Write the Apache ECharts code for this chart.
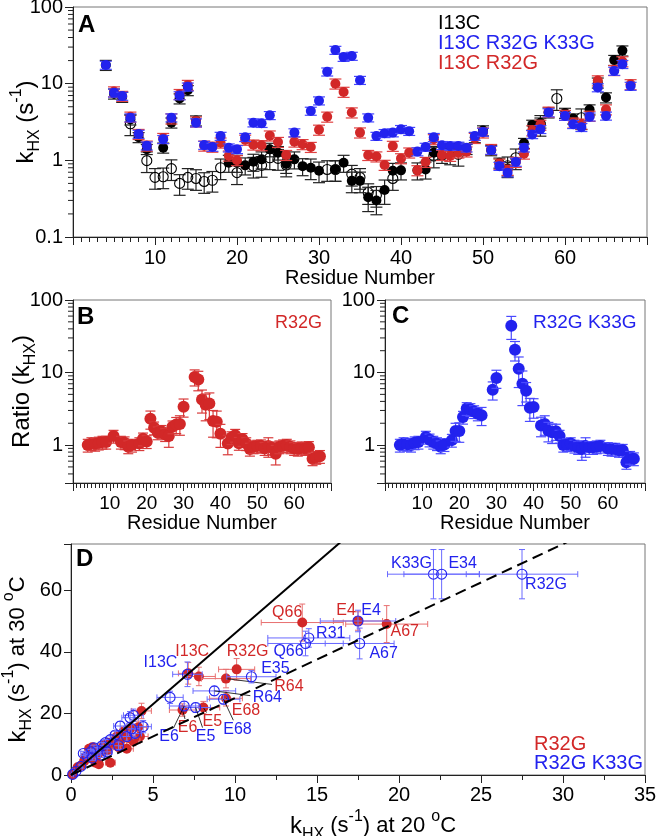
<!DOCTYPE html>
<html>
<head>
<meta charset="utf-8">
</head>
<body style="margin:0">
<div id="main" style="width:660px;height:836px"></div>
<script src="https://cdn.jsdelivr.net/npm/echarts@6/dist/echarts.min.js"></script>
<script>
// ---- panel A: kHX per residue (s^-1), [residue, value, optional rel. error]
const blackA = [[4,17.5],[5,7.4],[6,6.7],[7,3.4],[8,2.0],[9,1.4],[11,1.46],[12,3.1],[13,6.4],[14,8.2],[15,3.3],
  [19,0.93,0.25],[20,0.93,0.25],[21,0.86,0.25],[22,0.96,0.25],[23,1.03,0.25],[24,1.39,0.2],[25,1.26,0.2],
  [26,0.9,0.25],[27,1.03,0.25],[28,0.84,0.25],[29,0.8,0.3],[30,0.73,0.3],[32,0.76,0.3],[33,0.93,0.25],
  [34,0.54,0.3],[35,0.54,0.3],[36,0.33,0.35],[37,0.30,0.35],[38,0.41,0.35],[39,0.73,0.25],[40,0.74,0.25],
  [42,0.74,0.25],[43,0.76,0.25],[44,1.26,0.2],[45,1.14,0.2],[46,1.45],[47,1.46],[48,1.4],[49,2.0],[50,2.45],
  [51,1.35],[52,0.93],[53,0.78,0.2],[55,1.68],[56,2.9],[57,3.1],[58,4.2],[60,4.15],[61,3.5],[63,4.6],
  [64,10.3],[65,6.6],[66,20.3],[67,27]];
const openA = [[7,3.0],[9,0.99],[10,0.6],[11,0.61],[12,0.78],[13,0.5],[14,0.6],[15,0.58],[16,0.53],[17,0.55],
  [18,0.8],[20,0.69],[22,0.84],[23,0.86],[24,1.08],[25,1.06],[26,0.87],[31,0.76],[32,0.76],[34,0.66],
  [35,0.6],[36,0.38],[37,0.35],[39,0.58],[44,1.14],[46,1.25],[47,1.2],[53,0.85],[54,1.08],[57,2.95],
  [59,6.4],[62,3.6]];
const redA = [[5,7.9],[6,6.9],[7,3.7],[8,2.2],[9,1.55],[11,1.95],[12,3.5],[13,7.3],[14,9.6],[15,3.2],[16,1.55],
  [17,1.5],[18,1.7],[19,1.15],[20,1.0],[21,1.85],[22,1.6],[23,1.57],[24,2.1],[25,1.73],[26,1.17],[27,1.75],
  [28,1.62],[29,1.49],[30,2.5],[31,3.7],[32,10],[33,7.8],[34,4.2],[35,2.3],[36,1.17],[37,1.12],[38,0.87],
  [39,1.54],[40,1.06],[41,1.26],[42,0.74],[43,0.95],[44,1.88],[45,1.17],[46,1.14],[47,1.26],[48,1.3],
  [49,1.95],[50,2.3],[51,1.4],[52,0.9],[53,0.75],[54,0.95],[55,1.22],[56,2.45],[57,2.9],[58,4.3],[60,3.9],
  [61,3.1],[62,3.0],[63,3.8],[64,11],[65,4.6],[66,15],[67,19.5],[68,9.8]];
const blueA = [[4,17.5],[5,7.6],[6,6.9],[7,3.6],[8,2.2],[9,1.55],[11,1.88],[12,3.6],[13,7.0],[14,9.1],[15,3.1],
  [16,1.58],[17,1.49],[18,2.07],[19,1.46],[20,1.39],[21,2.0],[22,3.1],[23,3.05],[24,3.86],[27,2.3],[29,4.4],
  [30,6.0],[31,14.3],[32,27.4],[33,22.2],[34,22.9],[35,11.1],[36,3.6],[37,2.07],[38,2.25],[39,2.3],[40,2.54],
  [41,2.4],[42,1.3],[43,1.49],[44,2.0],[45,1.57],[46,1.54],[47,1.54],[48,1.46],[49,2.07],[50,2.34],[51,1.36],
  [52,0.84],[53,0.69],[54,0.95],[55,1.46],[56,2.18],[57,2.54],[58,4.2],[60,3.78],[61,2.95],[62,2.7],[63,3.7],
  [64,8.9],[65,3.8],[66,14.6],[67,17.9],[68,9.3]];

// ---- panels B, C: ratio of kHX, [residue, ratio, optional rel. error]
const ratioB = [[4,1.0],[5,1.05],[6,1.03],[7,1.07],[8,1.1],[9,1.1],[11,1.33],[13,1.1],[14,1.08],[15,0.95],
  [16,1.0],[18,1.05],[19,1.22],[20,1.12],[21,2.3,0.28],[22,1.73],[23,1.48],[24,1.55],[25,1.4],[26,1.33,0.3],
  [27,1.79],[28,1.92,0.25],[29,1.95,0.3],[30,3.37,0.28],[33,8.7,0.25],[34,8.0,0.3],[35,4.25,0.35],
  [36,3.6,0.4],[37,3.74,0.4],[38,2.14,0.4],[39,2.1,0.4],[40,1.43,0.35],[42,1.05,0.3],[43,1.27],[44,1.37],
  [45,1.06],[46,1.2],[47,1.05],[48,0.88],[49,0.95],[50,0.97],[51,0.98],[52,0.9],[53,0.97,0.3],[54,0.92],
  [55,0.76,0.3],[56,0.95],[57,0.98],[58,1.0],[59,0.95],[60,0.9],[61,0.88],[62,0.92],[63,0.9],[64,0.93],
  [65,0.65],[66,0.68],[67,0.7]];
const ratioC = [[4,1.0],[5,1.05],[6,1.03],[7,1.0],[8,1.08],[9,1.1],[11,1.29],[12,1.18],[13,1.1],[14,1.05],
  [15,0.95],[16,1.02],[18,1.17],[19,1.56,0.28],[20,1.56,0.3],[21,2.43],[22,3.2],[23,3.1],[24,2.9],[25,2.7],
  [26,2.58,0.28],[29,5.8,0.28],[30,8.4,0.28],[34,44,0.35],[35,20.6,0.3],[36,11.3,0.45],[37,7.0,0.5],
  [38,5.6,0.3],[39,3.26,0.35],[40,3.35,0.3],[42,1.86,0.3],[43,1.95,0.3],[44,1.58,0.3],[45,1.5,0.3],
  [46,1.55,0.25],[47,1.33],[48,1.0],[49,1.02],[50,1.05],[51,0.97],[52,0.93],[53,0.88,0.3],[54,0.97,0.3],
  [55,0.93],[56,0.93],[57,0.95],[58,0.97],[60,0.9],[61,0.88],[62,0.88],[63,0.85],[64,0.85],[65,0.58],
  [66,0.68],[67,0.65]];

// ---- panel D: [kHX 20C, kHX 30C, x error, y error, label]
const redD = [[14.1,49.5,2.5,6,'Q66'],[17.5,50,1.5,3,'E4'],[19.25,49,2.5,6,'A67'],[7.15,33,0.6,3.5,'I13C'],
  [7.8,32,1.0,3],[10.1,34.3,1.1,3.5,'R32G'],[9.45,31.3,1.5,3,'R64'],[9.45,24.9,1.0,2.5,'E68'],
  [8.07,21.9,1.0,2,'E5'],[6.8,21.1,0.8,2,'E6'],
  [4.3,20.8,0.6,2.5],[4.1,15.5,0.5,2],[4.2,12.5,0.5,1.5],[3.6,15,0.5,2],[3.5,12,0.4,1.5],[3.2,14,0.4,1.5],
  [3.0,11,0.4,1.5],[2.9,9,0.3,1],[2.6,10,0.3,1.2],[2.4,4.0,0.3,0.8],[2.2,8,0.3,1],[2.0,9.5,0.3,1],
  [1.8,7.5,0.2,1],[1.6,6.5,0.2,0.8],[1.5,4,0.2,0.6],[1.3,9,0.2,1],[1.1,8.5,0.2,1],[1.2,5.5,0.2,0.8],
  [0.9,6,0.15,0.8],[0.8,4.5,0.1,0.6],[0.6,3,0.1,0.5],[0.4,2.5,0.1,0.4],[0.1,0.2,0.05,0.1],[1.7,3.5,0.2,0.5],
  [2.3,10.5,0.3,1.2],[3.8,11,0.4,1.5],[3.4,8.5,0.4,1.2],[1.4,7,0.2,0.9],[2.8,12.5,0.3,1.5]];
const blueD = [[22.1,65.2,2.8,8,'K33G'],[22.6,65.2,2.3,8,'E34'],[27.5,65.2,3.4,8,'R32G'],[17.5,50,2.3,3.5,'E4'],
  [17.6,42.7,2.1,5,'A67'],[14.5,44.5,2.5,3,'R31'],[14.3,42.7,2.3,4,'Q66'],[7.1,32.7,0.9,4,'I13C'],
  [11.0,31.9,1.5,2,'E35'],[8.74,27.3,1.3,1.5,'R64'],[9.3,24.6,1.0,1.5,'E68'],[7.6,21.9,0.9,1.5,'E5'],
  [6.9,22.4,0.9,1.5,'E6'],
  [6.04,25.2,0.8,2],[4.4,15.7,0.5,2],[3.8,19.4,0.6,2],[3.6,18.6,0.5,2],[3.0,15.9,0.4,1.5],[3.4,12.5,0.4,1.5],
  [2.7,13,0.3,1.2],[2.4,11.5,0.3,1.2],[2.1,10.5,0.3,1],[1.9,9.5,0.3,1],[1.6,8,0.2,0.9],[1.4,8.8,0.2,0.9],
  [1.2,7.5,0.2,0.8],[1.0,6,0.15,0.7],[0.75,7,0.15,0.7],[0.6,2.8,0.1,0.5],[0.3,1.2,0.1,0.3],[0.1,0.2,0.05,0.1],
  [1.3,5.5,0.2,0.7],[1.8,6.5,0.2,0.8],[2.2,7.5,0.3,1],[3.9,13.5,0.4,1.5],[2.9,9.5,0.3,1.2],[3.7,15,0.5,1.5]];
const slopeSolid = 4.6;
const slopeDashed = 2.5;

// minor ticks of the log axes
const logMinor = [0.2,0.3,0.4,0.5,0.6,0.7,0.8,0.9,2,3,4,5,6,7,8,9,20,30,40,50,60,70,80,90];

// label offsets in D (pixels from the point centre), lead = draw a leader line
const redLabels = {
  Q66: {off: [-15, -10]}, E4: {off: [-12, -10]}, A67: {off: [18, 8]}, I13C: {off: [4, -22]},
  R32G: {off: [11, -18]}, R64: {off: [63, 8], lead: true}, E68: {off: [20, 12], lead: true},
  E5: {off: [9, 14], lead: true}, E6: {off: [5, 18], lead: true}
};
const blueLabels = {
  K33G: {off: [-22, -11]}, E34: {off: [21, -11]}, R32G: {off: [24, 10]}, E4: {off: [13, -10]},
  A67: {off: [24, 10]}, R31: {off: [22, -4]}, Q66: {off: [-17, 8]}, I13C: {off: [-27, -12]},
  E35: {off: [24, -8]}, R64: {off: [53, 7], lead: true}, E68: {off: [14, 30], lead: true},
  E5: {off: [10, 29], lead: true}, E6: {off: [-15, 31], lead: true}
};

const FONT = '"Liberation Sans", Arial, Helvetica, sans-serif';
const RED = '#d22828';
const BLUE = '#2222ee';
const AX = '#222';

var dom = document.getElementById('main');
var myChart = echarts.init(dom);

function resSeries(grid, data, defErr, color, barColor, r, cap, open) {
  return {
    type: 'custom', xAxisIndex: grid, yAxisIndex: grid, clip: false, silent: true,
    data: data.map(d => [d[0], d[1], d[2] == null ? defErr : d[2]]),
    encode: {x: 0, y: 1},
    renderItem: function (params, api) {
      const x = api.value(0), y = api.value(1), e = api.value(2);
      const p = api.coord([x, y]);
      const lo = api.coord([x, y * (1 - e)]);
      const hi = api.coord([x, y * (1 + e)]);
      const ls = {stroke: barColor, lineWidth: 1.2};
      return {type: 'group', children: [
        {type: 'line', shape: {x1: p[0], y1: lo[1], x2: p[0], y2: hi[1]}, style: ls},
        {type: 'line', shape: {x1: p[0] - cap, y1: lo[1], x2: p[0] + cap, y2: lo[1]}, style: ls},
        {type: 'line', shape: {x1: p[0] - cap, y1: hi[1], x2: p[0] + cap, y2: hi[1]}, style: ls},
        {type: 'circle', shape: {cx: p[0], cy: p[1], r: r},
          style: open ? {fill: 'none', stroke: color, lineWidth: 1.1} : {fill: color}}
      ]};
    }
  };
}

function minorTicks(grid, minV) {
  return {
    type: 'custom', xAxisIndex: grid, yAxisIndex: grid, clip: false, silent: true,
    data: logMinor.filter(v => v > minV).map(v => [0, v]),
    encode: {x: 0, y: 1},
    renderItem: function (params, api) {
      const p = api.coord([api.value(0), api.value(1)]);
      return {type: 'line', shape: {x1: p[0] - 5, y1: p[1], x2: p[0], y2: p[1]}, style: {stroke: AX, lineWidth: 1}};
    }
  };
}

function dSeries(data, color, barColor, open, labels) {
  return {
    type: 'custom', xAxisIndex: 3, yAxisIndex: 3, clip: false, silent: true,
    data: data.map(d => [d[0], d[1]]),
    encode: {x: 0, y: 1},
    renderItem: function (params, api) {
      const src = data[params.dataIndex];
      const x = src[0], y = src[1], ex = src[2], ey = src[3];
      const p = api.coord([x, y]);
      const l = api.coord([x - ex, y]), rr = api.coord([x + ex, y]);
      const t = api.coord([x, y + ey]), b = api.coord([x, y - ey]);
      const ls = {stroke: barColor, lineWidth: 1};
      const c = 3;
      const kids = [
        {type: 'line', shape: {x1: l[0], y1: p[1], x2: rr[0], y2: p[1]}, style: ls},
        {type: 'line', shape: {x1: p[0], y1: t[1], x2: p[0], y2: b[1]}, style: ls},
        {type: 'line', shape: {x1: l[0], y1: p[1] - c, x2: l[0], y2: p[1] + c}, style: ls},
        {type: 'line', shape: {x1: rr[0], y1: p[1] - c, x2: rr[0], y2: p[1] + c}, style: ls},
        {type: 'line', shape: {x1: p[0] - c, y1: t[1], x2: p[0] + c, y2: t[1]}, style: ls},
        {type: 'line', shape: {x1: p[0] - c, y1: b[1], x2: p[0] + c, y2: b[1]}, style: ls},
        {type: 'circle', shape: {cx: p[0], cy: p[1], r: 5},
          style: open ? {fill: 'none', stroke: color, lineWidth: 1.1} : {fill: color}}
      ];
      if (src[4]) {
        const lb = labels[src[4]];
        const dx = lb.off[0], dy = lb.off[1];
        kids.push({type: 'text', x: p[0] + dx, y: p[1] + dy,
          style: {text: src[4], fill: color, fontSize: 16, fontFamily: FONT,
            align: 'center', verticalAlign: 'middle', textAlign: 'center', textVerticalAlign: 'middle'}});
        if (lb.lead) {
          const hw = src[4].length * 5 + 2, hh = 9;
          const s = 1 - Math.min(hw / Math.abs(dx || 1e-6), hh / Math.abs(dy || 1e-6));
          kids.push({type: 'line', shape: {x1: p[0], y1: p[1], x2: p[0] + dx * s, y2: p[1] + dy * s},
            style: {stroke: '#000', lineWidth: 0.8}});
        }
      }
      return {type: 'group', children: kids};
    }
  };
}

const axLine = {show: true, onZero: false, lineStyle: {color: AX, width: 1}};
const tickStyle = {color: AX, width: 1};

function resAxis(grid, fs, gap) {
  return {
    gridIndex: grid, type: 'value', min: 0, max: 70, interval: 10,
    axisLine: axLine,
    axisTick: {show: true, length: 8, lineStyle: tickStyle},
    minorTick: {show: true, splitNumber: 10, length: 5, lineStyle: tickStyle},
    splitLine: {show: false},
    axisLabel: {fontSize: fs, color: '#000', margin: 11, fontFamily: FONT,
      formatter: v => (v > 0 && v < 70) ? String(v) : ''},
    name: 'Residue Number', nameLocation: 'middle', nameGap: gap,
    nameTextStyle: {fontSize: 20, color: '#000', fontFamily: FONT}
  };
}

function logAxis(grid, min, name, gap) {
  return {
    gridIndex: grid, type: 'log', logBase: 10, min: min, max: 100,
    axisLine: axLine,
    axisTick: {show: true, length: 8, lineStyle: tickStyle},
    splitLine: {show: false},
    axisLabel: {fontSize: 20, color: '#000', margin: 10, fontFamily: FONT,
      formatter: function (v) {
        const lg = Math.log10(v);
        return Math.abs(lg - Math.round(lg)) < 1e-6 ? String(+v.toPrecision(3)) : '';
      }},
    name: name, nameLocation: 'middle', nameGap: gap, nameRotate: 90, nameMoveOverlap: false,
    nameTextStyle: {fontFamily: FONT, color: '#000', rich: richName}
  };
}

const richName = {
  k: {fontSize: 24, color: '#000', fontFamily: FONT, lineHeight: 34},
  t: {fontSize: 22, color: '#000', fontFamily: FONT, lineHeight: 34},
  sub: {fontSize: 16, color: '#000', fontFamily: FONT, verticalAlign: 'bottom', lineHeight: 16},
  sup: {fontSize: 16, color: '#000', fontFamily: FONT, verticalAlign: 'top', lineHeight: 16}
};

const gridBase = {show: true, borderColor: '#777', borderWidth: 1, backgroundColor: 'transparent',
  containLabel: false, outerBoundsMode: 'none'};

function txt(x, y, text, fill, size, bold, align) {
  return {type: 'text', x: x, y: y, silent: true,
    style: {text: text, fill: fill, fontSize: size, fontWeight: bold ? 'bold' : 'normal', fontFamily: FONT,
      align: align || 'left', verticalAlign: 'middle', textAlign: align || 'left', textVerticalAlign: 'middle'}};
}

var option = {
  animation: false,
  backgroundColor: '#fff',
  textStyle: {fontFamily: FONT},
  grid: [
    Object.assign({left: 73, top: 7, width: 574, height: 230}, gridBase),
    Object.assign({left: 73, top: 300, width: 258, height: 183}, gridBase),
    Object.assign({left: 385, top: 300, width: 260, height: 183}, gridBase),
    Object.assign({left: 71, top: 544, width: 574, height: 231}, gridBase)
  ],
  xAxis: [
    resAxis(0, 20, 30),
    resAxis(1, 19, 30),
    resAxis(2, 19, 30),
    {
      gridIndex: 3, type: 'value', min: 0, max: 35, interval: 5,
      axisLine: axLine,
      axisTick: {show: true, length: 8, lineStyle: tickStyle},
      minorTick: {show: true, splitNumber: 2, length: 5, lineStyle: tickStyle},
      splitLine: {show: false},
      axisLabel: {fontSize: 20, color: '#000', margin: 10, fontFamily: FONT},
      name: '{k|k}{sub|HX}{t| (s}{sup|-1}{t|) at 20 }{sup|o}{t|C}', nameLocation: 'middle', nameGap: 34,
      nameTextStyle: {fontFamily: FONT, color: '#000', rich: richName, padding: [0, 0, 0, 30]}
    }
  ],
  yAxis: [
    logAxis(0, 0.1, '{k|k}{sub|HX}{k| (s}{sup|-1}{k|)}', 30),
    logAxis(1, 0.3, '{k|Ratio (k}{sub|HX}{k|)}', 34),
    Object.assign(logAxis(2, 0.3, '', 38), {name: ''}),
    {
      gridIndex: 3, type: 'value', min: 0, max: 75, interval: 20,
      axisLine: axLine,
      axisTick: {show: true, length: 7, lineStyle: tickStyle},
      splitLine: {show: false},
      axisLabel: {fontSize: 20, color: '#000', margin: 9, fontFamily: FONT,
        formatter: v => (v % 20 === 0) ? String(v) : ''},
      name: '{k|k}{sub|HX}{t| (s}{sup|-1}{t|) at 30 }{sup|o}{t|C}', nameLocation: 'middle', nameGap: 36,
      nameRotate: 90, nameMoveOverlap: false,
      nameTextStyle: {fontFamily: FONT, color: '#000', rich: richName}
    }
  ],
  series: [
    minorTicks(0, 0.1),
    minorTicks(1, 0.3),
    minorTicks(2, 0.3),
    resSeries(0, openA, 0.3, '#000', '#222', 5, 6, true),
    resSeries(0, blackA, 0.15, '#000', '#222', 5, 6, false),
    resSeries(0, redA, 0.15, RED, '#e04040', 5, 6, false),
    resSeries(0, blueA, 0.12, BLUE, '#4545ff', 5, 6, false),
    resSeries(1, ratioB, 0.2, RED, '#d83a3a', 6, 5, false),
    resSeries(2, ratioC, 0.2, BLUE, '#4a4aff', 6, 5, false),
    {type: 'line', xAxisIndex: 3, yAxisIndex: 3, data: [[0, 0], [35, 35 * slopeSolid]], symbol: 'none',
      clip: true, silent: true, lineStyle: {color: '#000', width: 2}},
    {type: 'line', xAxisIndex: 3, yAxisIndex: 3, data: [[0, 0], [35, 35 * slopeDashed]], symbol: 'none',
      clip: true, silent: true, lineStyle: {color: '#000', width: 2, type: [11, 6]}},
    dSeries(redD, RED, '#e87070', false, redLabels),
    dSeries(blueD, BLUE, '#6a6aff', true, blueLabels)
  ],
  graphic: [
    txt(78, 25, 'A', '#000', 24, true),
    txt(438, 23, 'I13C', '#000', 20),
    txt(438, 43, 'I13C R32G K33G', BLUE, 20),
    txt(438, 63, 'I13C R32G', RED, 20),
    txt(77, 317, 'B', '#000', 24, true),
    txt(322, 323, 'R32G', RED, 18, false, 'right'),
    txt(392, 316, 'C', '#000', 24, true),
    txt(533, 323, 'R32G K33G', BLUE, 19),
    txt(76, 559, 'D', '#000', 24, true),
    txt(534, 744, 'R32G', RED, 20),
    txt(534, 763, 'R32G K33G', BLUE, 20)
  ]
};

myChart.setOption(option);
</script>
</body>
</html>
